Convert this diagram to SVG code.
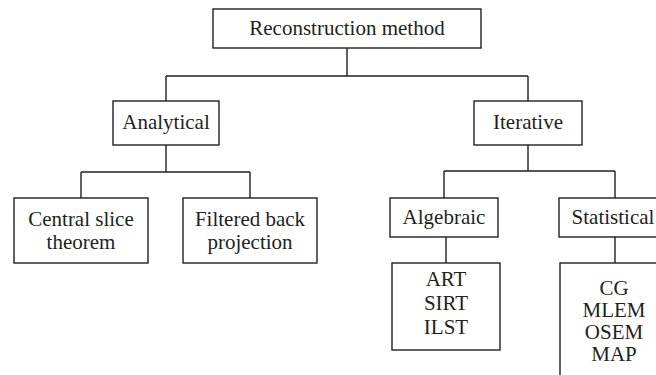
<svg xmlns="http://www.w3.org/2000/svg" width="656" height="375" viewBox="0 0 656 375">
<style>
rect{fill:#fff;stroke:#231f20;stroke-width:1.4}
text{font-family:"Liberation Serif","Times New Roman",serif;font-size:21px;fill:#231f20;text-anchor:middle}
.c{fill:none;stroke:#231f20;stroke-width:1.4}
</style>
<rect x="0" y="0" width="656" height="375" style="stroke:none"/>
<g id="connectors">
<path class="c" d="M347 48V76M166 76H528M166 76V101M528 76V101"/>
<path class="c" d="M166 145V172M81 172H250M81 172V198M250 172V198"/>
<path class="c" d="M528 145V171M444 171H615M444 171V198M615 171V198"/>
<path class="c" d="M446 237V263M615 237V263"/>
</g>
<g id="root"><rect x="213" y="9" width="268" height="39"/><text x="347" y="35">Reconstruction method</text></g>
<g id="analytical"><rect x="113" y="101" width="106" height="44"/><text x="166" y="129">Analytical</text></g>
<g id="iterative"><rect x="474" y="101" width="108" height="44"/><text x="528" y="129">Iterative</text></g>
<g id="central"><rect x="14" y="198" width="134" height="65"/><text x="81" y="226">Central slice</text><text x="81" y="249">theorem</text></g>
<g id="filtered"><rect x="183" y="198" width="134" height="65"/><text x="250" y="226">Filtered back</text><text x="250" y="249">projection</text></g>
<g id="algebraic"><rect x="390" y="198" width="108" height="39"/><text x="444" y="224">Algebraic</text></g>
<g id="statistical"><rect x="559" y="198" width="110" height="39"/><text x="613" y="224">Statistical</text></g>
<g id="art"><rect x="392" y="263" width="108" height="87"/><text x="446" y="286">ART</text><text x="446" y="310">SIRT</text><text x="446" y="334">ILST</text></g>
<g id="cg"><rect x="560" y="263" width="110" height="130"/><text x="614" y="295">CG</text><text x="614" y="317">MLEM</text><text x="614" y="339">OSEM</text><text x="614" y="361">MAP</text></g>
</svg>
